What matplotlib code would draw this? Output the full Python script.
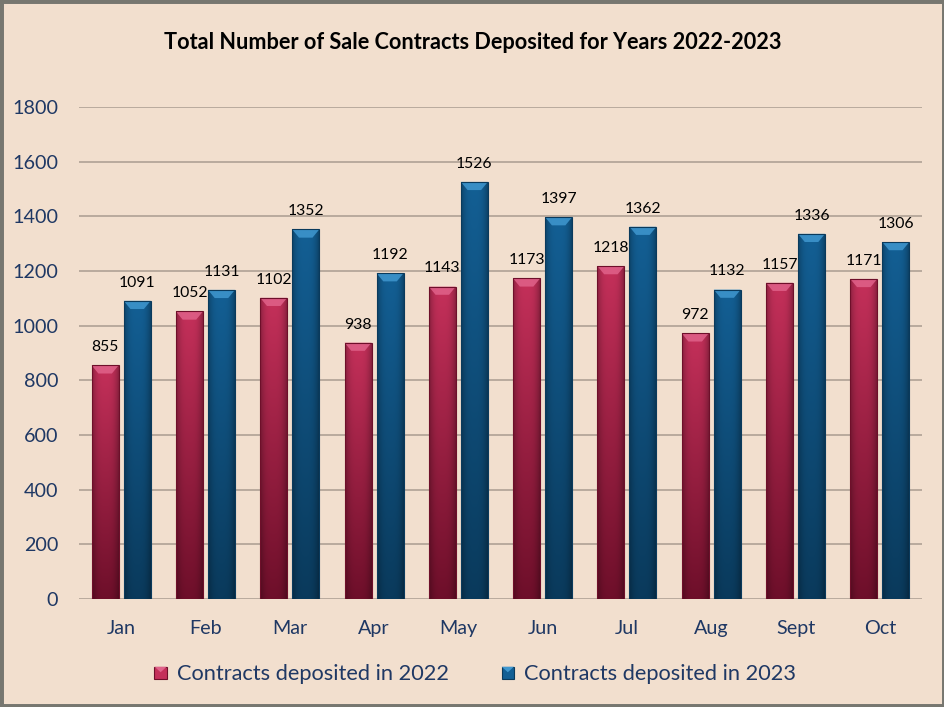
import numpy as np
import matplotlib
matplotlib.use("Agg")
import matplotlib.pyplot as plt
from matplotlib.patches import Rectangle, Polygon
from matplotlib.colors import to_rgb
from matplotlib.legend_handler import HandlerBase

months = ["Jan", "Feb", "Mar", "Apr", "May", "Jun", "Jul", "Aug", "Sept", "Oct"]
values_2022 = [855, 1052, 1102, 938, 1143, 1173, 1218, 972, 1157, 1171]
values_2023 = [1091, 1131, 1352, 1192, 1526, 1397, 1362, 1132, 1336, 1306]
series_labels = ["Contracts deposited in 2022", "Contracts deposited in 2023"]
title = "Total Number of Sale Contracts Deposited for Years 2022-2023"
yticks = [0, 200, 400, 600, 800, 1000, 1200, 1400, 1600, 1800]

BG = "#F2DFCE"
FONT = ["Lato", "DejaVu Sans"]
plt.rcParams["font.family"] = FONT

fig = plt.figure(figsize=(9.45, 7.07), dpi=100, facecolor=BG)
ax = fig.add_axes([0.0836, 0.1527, 0.892, 0.696])
ax.set_facecolor(BG)

x = np.arange(len(months))
w = 0.32
off = 0.19

styles = [
    dict(top="#C4305A", bottom="#6E0F2A", edge="#D94A73", bevel="#E0628A"),
    dict(top="#135F94", bottom="#0A3A5C", edge="#2B7DB3", bevel="#3F97CF"),
]

def grad_bar(ax, bar, st):
    x0, y0 = bar.get_x(), bar.get_y()
    bw, bh = bar.get_width(), bar.get_height()
    ny, nx = 64, 32
    t = np.linspace(0, 1, ny)[:, None]
    c_top = np.array(to_rgb(st["top"]))
    c_bot = np.array(to_rgb(st["bottom"]))
    base = c_bot[None, None, :] * (1 - t[..., None]) + c_top[None, None, :] * t[..., None]
    base = np.repeat(base, nx, axis=1)
    s = np.linspace(-1, 1, nx)
    shade = 1 - 0.28 * np.abs(s) ** 3
    img = base * shade[None, :, None]
    im = ax.imshow(img, extent=[x0, x0 + bw, y0, y0 + bh], origin="lower",
                   aspect="auto", zorder=3, interpolation="bilinear")
    im.set_clip_path(bar)
    bev_h = 30
    poly = Polygon([[x0, y0 + bh], [x0 + bw, y0 + bh],
                    [x0 + bw * 0.75, y0 + bh - bev_h], [x0 + bw * 0.25, y0 + bh - bev_h]],
                   closed=True, facecolor=st["bevel"], edgecolor="none", zorder=4, alpha=0.85)
    ax.add_patch(poly)
    ax.add_patch(Rectangle((x0, y0), bw, bh, fill=False, edgecolor=st["bottom"],
                           linewidth=0.8, zorder=5))

for vals, dx, st in [(values_2022, -off, styles[0]), (values_2023, off, styles[1])]:
    bars = ax.bar(x + dx, vals, width=w, color="none", zorder=2)
    for b, v in zip(bars, vals):
        grad_bar(ax, b, st)
        ax.annotate(str(v), (b.get_x() + b.get_width() / 2, v), xytext=(0, 8),
                    textcoords="offset points", ha="center", va="bottom",
                    fontsize=11.3, color="black", zorder=6)

ax.set_xlim(-0.5, len(months) - 0.5)
ax.set_ylim(0, 1800)
ax.set_yticks(yticks)
ax.set_yticklabels([str(v) for v in yticks])
ax.set_xticks(x)
ax.set_xticklabels(months)
ax.tick_params(axis="both", length=0, labelsize=14.2, colors="#1F3864")
ax.tick_params(axis="y", pad=15)
ax.tick_params(axis="x", pad=15)
for sp in ax.spines.values():
    sp.set_visible(False)
ax.yaxis.grid(True, color="#A99C90", linewidth=1.1, zorder=0)
ax.set_axisbelow(True)

fig.text(0.5, 0.94, title, ha="center", va="center", fontsize=15.6,
         fontweight="bold", color="black")

class GradHandler(HandlerBase):
    def __init__(self, st):
        super().__init__()
        self.st = st
    def create_artists(self, legend, orig_handle, xdescent, ydescent, width, height, fontsize, trans):
        s = height * 0.8
        x0 = -xdescent + width - s
        y0 = -ydescent + (height - s) / 2
        r = Rectangle((x0, y0), s, s, facecolor=self.st["top"], edgecolor=self.st["bottom"],
                      linewidth=0.8, transform=trans)
        tri = Polygon([[x0, y0 + s], [x0 + s, y0 + s], [x0 + s / 2, y0 + s * 0.55]],
                      facecolor=self.st["bevel"], edgecolor="none", transform=trans)
        return [r, tri]

h1 = Rectangle((0, 0), 1, 1)
h2 = Rectangle((0, 0), 1, 1)
leg = fig.legend([h1, h2], series_labels, loc="center", bbox_to_anchor=(0.5, 0.046),
                 ncol=2, frameon=False, fontsize=15.7, handlelength=0.8, handletextpad=0.45,
                 columnspacing=2.2,
                 handler_map={h1: GradHandler(styles[0]), h2: GradHandler(styles[1])})
for t in leg.get_texts():
    t.set_color("#1F3864")

fig.patches.append(Rectangle((0, 0), 1, 1, transform=fig.transFigure, fill=False,
                             edgecolor="#777770", linewidth=5, zorder=10))

fig.savefig("out.png", dpi=100, facecolor=BG)
